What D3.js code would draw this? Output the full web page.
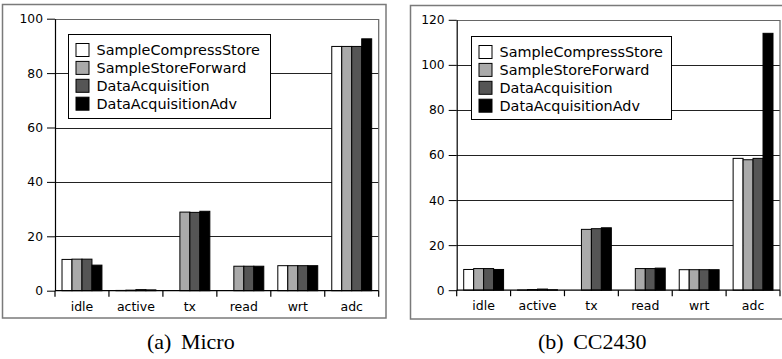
<!DOCTYPE html>
<html>
<head>
<meta charset="utf-8">
<script src="https://cdn.jsdelivr.net/npm/d3@7"></script>
<style>
  html, body { margin: 0; padding: 0; background: #fff; }
  svg { display: block; }
</style>
</head>
<body>
<svg id="chart" width="782" height="359"></svg>
<script>
// ---------- data ----------
const categories = ["idle", "active", "tx", "read", "wrt", "adc"];
const seriesNames = ["SampleCompressStore", "SampleStoreForward", "DataAcquisition", "DataAcquisitionAdv"];
const seriesColors = ["#ffffff", "#aaaaaa", "#555555", "#000000"];

// Micro panel (rows = series, columns = categories)
const microSampleCompressStore = [11.5, 0.1, 0.0, 0.0, 9.2, 89.8];
const microSampleStoreForward  = [11.6, 0.2, 28.9, 9.0, 9.2, 89.8];
const microDataAcquisition     = [11.6, 0.4, 28.8, 9.0, 9.2, 89.8];
const microDataAcquisitionAdv  = [9.4, 0.3, 29.2, 9.0, 9.2, 92.6];
const microTicks = [0, 20, 40, 60, 80, 100];

// CC2430 panel
const ccSampleCompressStore = [9.2, 0.1, 0.0, 0.0, 9.1, 58.5];
const ccSampleStoreForward  = [9.6, 0.3, 27.0, 9.6, 9.1, 57.9];
const ccDataAcquisition     = [9.6, 0.5, 27.3, 9.6, 9.1, 58.5];
const ccDataAcquisitionAdv  = [9.2, 0.2, 27.7, 9.8, 9.1, 114.0];
const ccTicks = [0, 20, 40, 60, 80, 100, 120];

const captionTags = ["(a)", "(b)"];
const captionNames = ["Micro", "CC2430"];

// ---------- drawing ----------
const svg = d3.select("#chart");

const panels = [
  {
    series: [microSampleCompressStore, microSampleStoreForward, microDataAcquisition, microDataAcquisitionAdv],
    ticks: microTicks, max: 100,
    frame: {x: 2.5, y: 4.5, w: 383.5, h: 313.5},
    plot: {x0: 55, x1: 378.7, yTop: 18.7, yZero: 290.7},
    legend: {x: 68.5, y: 34.5, w: 202, h: 84},
    tag: captionTags[0], name: captionNames[0], capX: 147
  },
  {
    series: [ccSampleCompressStore, ccSampleStoreForward, ccDataAcquisition, ccDataAcquisitionAdv],
    ticks: ccTicks, max: 120,
    frame: {x: 410.5, y: 5.5, w: 380, h: 313.5},
    plot: {x0: 456.7, x1: 780, yTop: 19.8, yZero: 290.2},
    legend: {x: 471.5, y: 36.5, w: 200, h: 83},
    tag: captionTags[1], name: captionNames[1], capX: 538
  }
];

panels.forEach(p => {
  const g = svg.append("g");
  const pl = p.plot;

  // outer frame
  g.append("rect")
    .attr("x", p.frame.x).attr("y", p.frame.y)
    .attr("width", p.frame.w).attr("height", p.frame.h)
    .attr("fill", "none").attr("stroke", "#7a7a7a").attr("stroke-width", 1.5);

  const y = d3.scaleLinear().domain([0, p.max]).range([pl.yZero, pl.yTop]);
  const x = d3.scaleBand().domain(categories).range([pl.x0, pl.x1]).padding(0);
  const bw = x.bandwidth();
  const inner = d3.scaleBand().domain(d3.range(seriesNames.length))
    .range([bw * 0.13, bw * 0.87]).padding(0);

  // gridlines
  g.append("g").selectAll("line")
    .data(p.ticks.filter(t => t > 0 && t < p.max))
    .join("line")
    .attr("x1", pl.x0).attr("x2", pl.x1)
    .attr("y1", d => Math.round(y(d)) + 0.5).attr("y2", d => Math.round(y(d)) + 0.5)
    .attr("stroke", "#222").attr("stroke-width", 1);

  // plot border top & right
  g.append("path")
    .attr("d", `M${pl.x0},${Math.round(y(p.max)) + 0.5}H${pl.x1}V${pl.yZero}`)
    .attr("fill", "none").attr("stroke", "#666").attr("stroke-width", 1.2);

  // bars
  p.series.forEach((vals, si) => {
    g.append("g").selectAll("rect")
      .data(vals.map((v, ci) => ({v, c: categories[ci]})))
      .join("rect")
      .attr("x", d => x(d.c) + inner(si))
      .attr("y", d => y(d.v))
      .attr("width", inner.bandwidth())
      .attr("height", d => y(0) - y(d.v))
      .attr("fill", seriesColors[si])
      .attr("stroke", d => d.v === 0 ? "#ddd" : "#000")
      .attr("stroke-width", 1);
  });

  // y axis
  const yAxis = d3.axisLeft(y).tickValues(p.ticks).tickSize(8).tickPadding(4).tickSizeOuter(0);
  const ya = g.append("g").attr("transform", `translate(${pl.x0},0)`).call(yAxis);
  ya.select(".domain").attr("stroke", "#000").attr("stroke-width", 1.2);
  ya.selectAll(".tick line").attr("stroke", "#000");
  ya.selectAll("text").attr("font-family", "DejaVu Sans").attr("font-size", 12.3).attr("fill", "#000");

  // x axis baseline
  g.append("line")
    .attr("x1", pl.x0).attr("x2", pl.x1)
    .attr("y1", y(0)).attr("y2", y(0))
    .attr("stroke", "#000").attr("stroke-width", 1.2);
  // x ticks at category boundaries
  const bounds = categories.map(c => x(c)).concat([pl.x1]);
  g.append("g").selectAll("line")
    .data(bounds).join("line")
    .attr("x1", d => d).attr("x2", d => d)
    .attr("y1", y(0)).attr("y2", y(0) + 6)
    .attr("stroke", "#000").attr("stroke-width", 1.2);
  g.append("g").selectAll("text")
    .data(categories).join("text")
    .attr("x", d => x(d) + bw / 2)
    .attr("y", y(0) + 20)
    .attr("text-anchor", "middle")
    .attr("font-family", "DejaVu Sans").attr("font-size", 12.5)
    .text(d => d);

  // legend
  const L = p.legend;
  const lg = g.append("g");
  lg.append("rect").attr("x", L.x).attr("y", L.y).attr("width", L.w).attr("height", L.h)
    .attr("fill", "#fff").attr("stroke", "#000").attr("stroke-width", 1);
  seriesNames.forEach((name, i) => {
    const ry = L.y + 9 + i * 17.9;
    lg.append("rect").attr("x", L.x + 7.5).attr("y", ry).attr("width", 13).attr("height", 13)
      .attr("fill", seriesColors[i]).attr("stroke", "#000").attr("stroke-width", 1);
    lg.append("text").attr("x", L.x + 28).attr("y", ry + 11.5)
      .attr("font-family", "DejaVu Sans").attr("font-size", 14.4)
      .text(name);
  });

  // caption
  const cap = g.append("text")
    .attr("x", p.capX).attr("y", 348.5)
    .attr("font-family", "Liberation Serif").attr("font-size", 22);
  cap.append("tspan").text(p.tag);
  cap.append("tspan").attr("dx", 4).text(" " + p.name);
});
</script>
</body>
</html>
